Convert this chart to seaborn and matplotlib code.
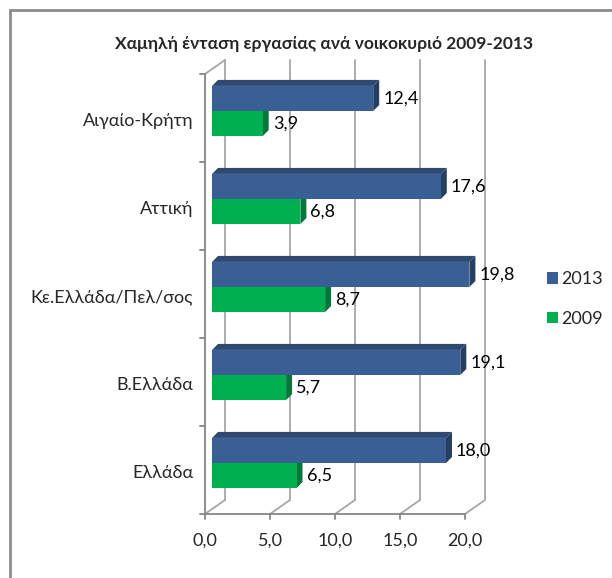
import pandas as pd
import matplotlib.pyplot as plt
import seaborn as sns
from matplotlib.patches import Polygon, Rectangle

# Data
regions = ['Αιγαίο-Κρήτη', 'Αττική', 'Κε.Ελλάδα/Πελ/σος', 'Β.Ελλάδα', 'Ελλάδα']
values_2013 = [12.4, 17.6, 19.8, 19.1, 18.0]
values_2009 = [3.9, 6.8, 8.7, 5.7, 6.5]
years = ['2013', '2009']
x_ticks = [0, 5, 10, 15, 20]

df = pd.DataFrame({
    'region': regions * 2,
    'value': values_2013 + values_2009,
    'year': [years[0]] * len(regions) + [years[1]] * len(regions),
})

sns.set_style('white')
plt.rcParams['font.family'] = ['Lato', 'DejaVu Sans']

W, H = 612, 578
fig = plt.figure(figsize=(W / 100, H / 100), dpi=100)
# axes = plane of the bars (middle of the 3D depth)
ax = fig.add_axes([212 / W, (H - 507) / H, 260 / W, 440 / H])

colors = {'2013': '#3A5F94', '2009': '#00B050'}
top_colors = {'2013': '#2E4A72', '2009': '#008A3E'}
side_colors = {'2013': '#243F63', '2009': '#00783A'}

sns.barplot(data=df, y='region', x='value', hue='year', hue_order=years,
            palette=colors, orient='h', width=0.57, saturation=1,
            linewidth=0, ax=ax)
ax.set_xlim(0, 20)
ax.set_ylim(4.5, -0.5)
ax.set_axis_off()

# pixel -> data conversions
px_x = 260 / 20.0
px_y = 88.0
n = len(regions)

# pseudo 3D faces on the bars
depth = 6
for year, cont in zip(years, ax.containers):
    for bar in cont:
        bar.set_zorder(3)
        x0, y0 = bar.get_x(), bar.get_y()
        w, h = bar.get_width(), bar.get_height()
        dx, dy = depth / px_x, depth / px_y
        top = Polygon([(x0, y0), (x0 + w, y0), (x0 + w + dx, y0 - dy), (x0 + dx, y0 - dy)],
                      closed=True, facecolor=top_colors[year], edgecolor='none',
                      zorder=2.5, clip_on=False)
        side = Polygon([(x0 + w, y0), (x0 + w, y0 + h), (x0 + w + dx, y0 + h - dy), (x0 + w + dx, y0 - dy)],
                       closed=True, facecolor=side_colors[year], edgecolor='none',
                       zorder=2.5, clip_on=False)
        ax.add_patch(top)
        ax.add_patch(side)
        label = f'{w:.1f}'.replace('.', ',')
        ax.text(x0 + w + (depth + 4) / px_x, y0 + h / 2, label, ha='left', va='center',
                fontsize=13, color='black', zorder=4, clip_on=False)

# front plane and back wall offsets
fx, fy = -7 / px_x, 7 / px_y
bx, by = 13 / px_x, -7 / px_y
grid_c = '#A6A6A6'
axis_c = '#868686'
y_top, y_bot = -0.5, n - 0.5

# back wall gridlines and floor lines
for t in x_ticks:
    ax.plot([t + bx, t + bx], [y_top + by, y_bot + by], color=grid_c, lw=1.3, zorder=1, clip_on=False)
    ax.plot([t + fx, t + bx], [y_bot + fy, y_bot + by], color=grid_c, lw=1.3, zorder=1, clip_on=False)
ax.plot([fx, bx], [y_top + fy, y_top + by], color=grid_c, lw=1.3, zorder=1, clip_on=False)

# front axes
ax.plot([fx, fx], [y_top + fy, y_bot + fy], color=axis_c, lw=1.3, zorder=1, clip_on=False)
ax.plot([fx, 20 + fx], [y_bot + fy, y_bot + fy], color=axis_c, lw=1.3, zorder=1, clip_on=False)
for i in range(n + 1):
    yy = i - 0.5 + fy
    ax.plot([fx - 5 / px_x, fx], [yy, yy], color=axis_c, lw=1.3, clip_on=False)
for t in x_ticks:
    ax.plot([t + fx, t + fx], [y_bot + fy, y_bot + fy + 5 / px_y], color=axis_c, lw=1.3, clip_on=False)
    ax.text(t + fx, y_bot + fy + 27 / px_y, f'{t:.1f}'.replace('.', ','),
            ha='center', va='center', fontsize=13, clip_on=False)

for i, r in enumerate(regions):
    ax.text(fx - 12 / px_x, i + fy + 3 / px_y, r, ha='right', va='center',
            fontsize=13, clip_on=False)

# legend
handles, labels = ax.get_legend_handles_labels()
ax.legend(handles, labels, loc='center left', bbox_to_anchor=(531 / W, 1 - 299 / H),
          bbox_transform=fig.transFigure, frameon=False, fontsize=13,
          handlelength=0.6, handleheight=0.6, handletextpad=0.2, labelspacing=1.3)

fig.text(324 / W, 1 - 44 / H, 'Χαμηλή ένταση εργασίας ανά νοικοκυριό 2009-2013',
         ha='center', va='center', fontsize=12.5, fontweight='bold')

# chart area border (cut by the image edge on the right and bottom)
fig.add_artist(Rectangle((10 / W, -0.05), 1.2, (H - 10) / H + 0.05, transform=fig.transFigure,
                         fill=False, edgecolor='#8C8C8C', lw=2))

fig.savefig('out.png', dpi=100)
